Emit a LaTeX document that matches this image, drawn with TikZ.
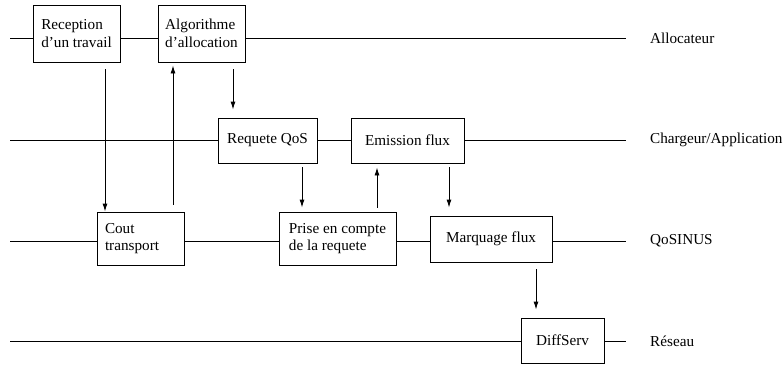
\documentclass[tikz,border=0pt]{standalone}
\usepackage{fontspec}
\setmainfont{Liberation Serif}
\usetikzlibrary{arrows.meta}

\begin{document}
\begin{tikzpicture}[x=1pt,y=-1pt,
		font=\fontsize{15.2}{17.5}\selectfont,
		box/.style={draw,fill=white,align=left,inner sep=0pt,line width=0.9pt},
		lane/.style={line width=0.9pt,shorten >=24pt},
		lanelabel/.style={anchor=west,inner sep=0pt},
		flow/.style={line width=0.9pt,-{Latex[length=8pt,width=5pt]}}]
			%%%%% START %%%%%
			\useasboundingbox (0,0) rectangle (783,364);
			
			\node[lanelabel] (allocateur) at (650,38) {Allocateur};
			\node[lanelabel] (chargeur) at (650,140) {Chargeur/Application};
			\node[lanelabel] (qosinus) at (650,241) {QoSINUS};
			\node[lanelabel] (reseau) at (650,341) {Réseau};
			
			\coordinate (l1) at (10,38);
			\coordinate (l2) at (10,140);
			\coordinate (l3) at (10,241);
			\coordinate (l4) at (10,341);
			\draw[lane] (l1) -- (allocateur.west);
			\draw[lane] (l2) -- (chargeur.west);
			\draw[lane] (l3) -- (qosinus.west);
			\draw[lane] (l4) -- (reseau.west);
			
			\node[box,minimum width=87pt,minimum height=57pt] (reception) at (76.5,33.5) {Reception\\d'un travail};
			\node[box,minimum width=87pt,minimum height=57pt] (algo) at (201.5,33.5) {Algorithme\\d'allocation};
			
			\node[box,minimum width=99pt,minimum height=45pt] (requete) at (267.5,140.5) {Requete QoS};
			\node[box,minimum width=113pt,minimum height=45pt] (emission) at (407.5,140.5) {Emission flux};
			
			\node[box,minimum width=87pt,minimum height=53pt,text width=71pt] (cout) at (140.5,238.5) {Cout\\transport};
			\node[box,minimum width=117pt,minimum height=53pt] (prise) at (337.5,238.5) {Prise en compte\\de la requete};
			\node[box,minimum width=122pt,minimum height=46pt] (marquage) at (491,239) {Marquage flux};
			
			\node[box,minimum width=83pt,minimum height=45pt] (diffserv) at (562.5,340.5) {DiffServ};
			
			\draw[flow,shorten <=7pt] ([xshift=28.5pt]reception.south) -- ([xshift=28.5pt]reception.south |- cout.north);
			\draw[flow,shorten <=7pt,shorten >=3pt] ([xshift=-28.5pt]algo.south |- cout.north) -- ([xshift=-28.5pt]algo.south);
			\draw[flow,shorten <=7pt,shorten >=8pt] ([xshift=31.5pt]algo.south) -- ([xshift=31.5pt]algo.south |- requete.north);
			
			\draw[flow,shorten <=4pt,shorten >=4pt] ([xshift=34.5pt]requete.south) -- ([xshift=34.5pt]requete.south |- prise.north);
			\draw[flow,shorten <=4pt,shorten >=4pt] ([xshift=-30.5pt]emission.south |- prise.north) -- ([xshift=-30.5pt]emission.south);
			\draw[flow,shorten <=4pt,shorten >=8pt] ([xshift=41.5pt]emission.south) -- ([xshift=41.5pt]emission.south |- marquage.north);
			
			\draw[flow,shorten <=7pt,shorten >=8pt] ([xshift=45pt]marquage.south) -- ([xshift=45pt]marquage.south |- diffserv.north);
			
			%%%%% END %%%%%
		\end{tikzpicture}
\end{document}
